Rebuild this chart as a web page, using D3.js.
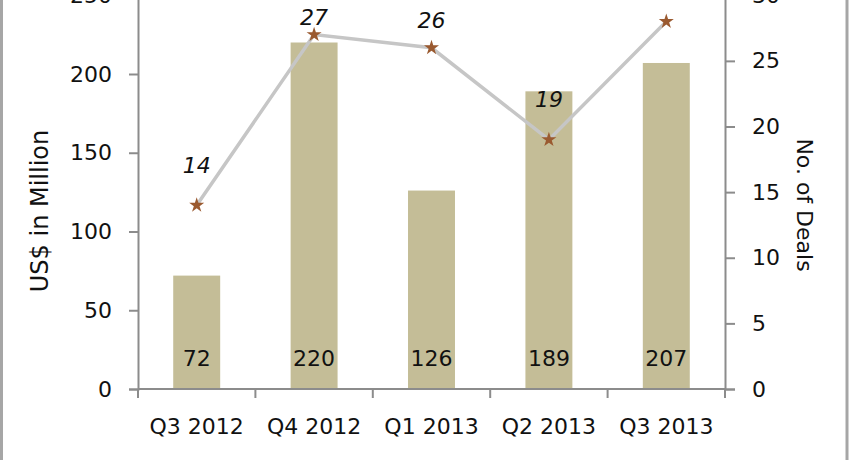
<!DOCTYPE html>
<html>
<head>
<meta charset="utf-8">
<script src="https://cdn.jsdelivr.net/npm/d3@7"></script>
<style>
  body { margin: 0; background: #fff; }
  svg { display: block; font-family: "DejaVu Sans", sans-serif; }
</style>
</head>
<body>
<div id="chart"></div>
<script>
// data
var quarters = ["Q3 2012", "Q4 2012", "Q1 2013", "Q2 2013", "Q3 2013"];
var amounts = [72, 220, 126, 189, 207];   // US$ in million (bars)
var deals = [14, 27, 26, 19, 28];         // no. of deals (line)
var leftTicks = [0, 50, 100, 150, 200, 250];
var rightTicks = [0, 5, 10, 15, 20, 25, 30];

var W = 850, H = 460;
var x0 = 138, x1 = 725, yBase = 389, yTop = -4.75;
// label lift above each point (hand placed in the original)
var labelLift = [40, 17, 27, 40, 40];

var svg = d3.select("#chart").append("svg")
    .attr("width", W).attr("height", H);

// frame
svg.append("rect")
    .attr("x", 1.5).attr("y", -5).attr("width", W - 4.5).attr("height", H + 10)
    .attr("fill", "none").attr("stroke", "#a6a6a6").attr("stroke-width", 3);

var x = d3.scaleBand().domain(quarters).range([x0, x1])
    .paddingInner(0.6).paddingOuter(0.3);
var xCat = d3.scaleBand().domain(quarters).range([x0, x1]);
var yL = d3.scaleLinear().domain([0, 250]).range([yBase, yTop]);
var yR = d3.scaleLinear().domain([0, 30]).range([yBase, yTop]);

var axisCol = "#8c8c8c";
var textCol = "#111";

// bars
svg.append("g").selectAll("rect")
    .data(amounts)
    .join("rect")
    .attr("x", (d, i) => x(quarters[i]))
    .attr("width", x.bandwidth())
    .attr("y", d => yL(d))
    .attr("height", d => yBase - yL(d))
    .attr("fill", "#c4bd97");

// value labels in bars
svg.append("g").selectAll("text")
    .data(amounts)
    .join("text")
    .attr("x", (d, i) => x(quarters[i]) + x.bandwidth() / 2)
    .attr("y", yBase - 31)
    .attr("dy", "0.35em")
    .attr("text-anchor", "middle")
    .attr("font-size", 22)
    .attr("fill", textCol)
    .text(d => d);

// left axis
var gL = svg.append("g").attr("transform", `translate(${x0},0)`)
    .call(d3.axisLeft(yL).tickValues(leftTicks).tickSize(9).tickPadding(17));
// right axis
var gR = svg.append("g").attr("transform", `translate(${x1},0)`)
    .call(d3.axisRight(yR).tickValues(rightTicks).tickSize(10).tickPadding(17));
// x axis (ticks between categories)
var gX = svg.append("g").attr("transform", `translate(0,${yBase})`);
gX.append("line").attr("x1", x0).attr("x2", x1)
    .attr("stroke", axisCol).attr("stroke-width", 2);
gX.selectAll("line.tk")
    .data(d3.range(quarters.length + 1))
    .join("line").attr("class", "tk")
    .attr("x1", i => x0 + i * xCat.step()).attr("x2", i => x0 + i * xCat.step())
    .attr("y1", 0).attr("y2", 9)
    .attr("stroke", axisCol).attr("stroke-width", 2);
gX.selectAll("text")
    .data(quarters)
    .join("text")
    .attr("x", d => xCat(d) + xCat.bandwidth() / 2)
    .attr("y", 37)
    .attr("dy", "0.35em")
    .attr("text-anchor", "middle")
    .attr("font-size", 22)
    .attr("fill", textCol)
    .text(d => d);

[gL, gR].forEach(g => {
    g.select(".domain").attr("stroke", axisCol).attr("stroke-width", 2);
    g.selectAll(".tick line").attr("stroke", axisCol).attr("stroke-width", 2);
    g.selectAll(".tick text").attr("font-size", 22).attr("fill", textCol)
        .attr("font-family", "DejaVu Sans");
});

// line
var px = (d, i) => xCat(quarters[i]) + xCat.bandwidth() / 2;
var line = d3.line().x(px).y(d => yR(d));
svg.append("path")
    .datum(deals)
    .attr("d", line)
    .attr("fill", "none")
    .attr("stroke", "#c6c6c6")
    .attr("stroke-width", 3.5);

svg.append("g").selectAll("path")
    .data(deals)
    .join("path")
    .attr("transform", (d, i) => `translate(${px(d, i)},${yR(d)})`)
    .attr("d", d3.symbol().type(d3.symbolStar).size(70))
    .attr("fill", "#9a5a30");

// deal labels; the last one sits above the top edge as in the original
svg.append("g").selectAll("text")
    .data(deals)
    .join("text")
    .attr("x", px)
    .attr("y", (d, i) => yR(d) - labelLift[i])
    .attr("dy", "0.35em")
    .attr("text-anchor", "middle")
    .attr("font-size", 22)
    .attr("font-style", "italic")
    .attr("fill", textCol)
    .text(d => d);

// axis titles
svg.append("text")
    .attr("transform", "translate(40,211) rotate(-90)")
    .attr("text-anchor", "middle")
    .attr("dy", "0.35em")
    .attr("font-size", 24)
    .attr("fill", textCol)
    .text("US$ in Million");

svg.append("text")
    .attr("transform", "translate(805,205) rotate(90)")
    .attr("text-anchor", "middle")
    .attr("dy", "0.35em")
    .attr("font-size", 22)
    .attr("fill", textCol)
    .text("No. of Deals");
</script>
</body>
</html>
